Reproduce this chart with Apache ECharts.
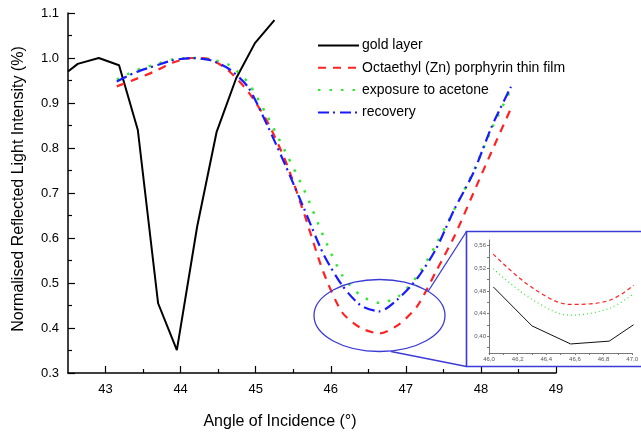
<!DOCTYPE html>
<html><head><meta charset="utf-8">
<script src="https://cdn.jsdelivr.net/npm/echarts@6/dist/echarts.min.js"></script>
<style>html,body{margin:0;padding:0;background:#fff}#c{width:641px;height:437px}</style>
</head><body><div id="c"></div>
<script>
// ---- data ----
const goldX = [42.5, 42.63, 42.91, 43.18, 43.43, 43.70, 43.95, 44.22, 44.48, 44.74, 44.99, 45.25];
const goldY = [0.970, 0.987, 1.000, 0.984, 0.840, 0.455, 0.351, 0.625, 0.836, 0.955, 1.033, 1.084];
const filmX = [43.15, 43.4, 43.65, 43.9, 44.15, 44.4, 44.65, 44.9, 45.15, 45.4, 45.65, 45.9, 46.15, 46.4, 46.65, 46.9, 47.15, 47.4, 47.65, 47.9, 48.15, 48.4];
const filmY = [0.937, 0.953, 0.970, 0.990, 1.000, 0.997, 0.970, 0.925, 0.860, 0.770, 0.652, 0.525, 0.435, 0.400, 0.388, 0.407, 0.448, 0.525, 0.605, 0.700, 0.795, 0.888];
const acetoneY = [0.952, 0.972, 0.985, 0.997, 1.000, 0.997, 0.984, 0.945, 0.872, 0.790, 0.705, 0.605, 0.518, 0.472, 0.456, 0.470, 0.515, 0.585, 0.665, 0.748, 0.845, 0.930];
const recoveryY = [0.948, 0.968, 0.982, 0.995, 1.000, 0.995, 0.975, 0.935, 0.852, 0.760, 0.663, 0.565, 0.495, 0.450, 0.437, 0.465, 0.510, 0.575, 0.665, 0.745, 0.850, 0.936];

const insetX = [46.03, 46.30, 46.57, 46.84, 47.01];
const insetGold = [0.487, 0.418, 0.386, 0.391, 0.420];
const insetFilm = [0.545, 0.486, 0.456, 0.463, 0.490];
const insetAcetone = [0.519, 0.465, 0.437, 0.449, 0.475];

const xTicks = [43, 44, 45, 46, 47, 48, 49];
const xMinorTicks = [43.5, 44.5, 45.5, 46.5, 47.5, 48.5];
const yTicks = [0.3, 0.4, 0.5, 0.6, 0.7, 0.8, 0.9, 1.0, 1.1];
const yMinorTicks = [0.35, 0.45, 0.55, 0.65, 0.75, 0.85, 0.95, 1.05];
const insetXTicks = [46.0, 46.2, 46.4, 46.6, 46.8, 47.0];
const insetXMinor = [46.0, 46.1, 46.2, 46.3, 46.4, 46.5, 46.6, 46.7, 46.8, 46.9, 47.0];
const insetYTicks = [0.40, 0.44, 0.48, 0.52, 0.56];
const insetYMinor = [0.38, 0.40, 0.42, 0.44, 0.46, 0.48, 0.50, 0.52, 0.54, 0.56];

const names = ['gold layer', 'Octaethyl (Zn) porphyrin thin film', 'exposure to acetone', 'recovery'];

// ---- chart ----
const FONT = '"Liberation Sans", Arial, Helvetica, sans-serif';
const pairs = (xs, ys) => xs.map((x, i) => [x, ys[i]]);
const chart = echarts.init(document.getElementById('c'), null, {renderer: 'canvas'});
const RED = '#ff2222', GREEN = '#33e633', BLUE = '#1a1aff', ANN = '#3b3bd6';

const mainAxisLine = {lineStyle: {color: '#000', width: 1.5}};
const option = {
  backgroundColor: '#fff',
  animation: false,
  grid: [
    {left: 68, top: 13, right: 85, bottom: 64},
    {left: 489, top: 240, right: 1, bottom: 84}
  ],
  legend: {
    orient: 'vertical', left: 317, top: 38.5, padding: 0, itemWidth: 41, itemHeight: 14, itemGap: 8.3,
    itemStyle: {opacity: 0},
    textStyle: {fontSize: 14, fontFamily: FONT, color: '#000', padding: [0, 0, 0, -2]},
    data: names
  },
  xAxis: [
    {gridIndex: 0, type: 'value', min: 42.5, max: 49, position: 'bottom',
     axisLine: mainAxisLine,
     axisTick: {inside: true, length: 7, customValues: xTicks, lineStyle: {color: '#000', width: 1.2}},
     axisLabel: {customValues: xTicks, formatter: v => String(Math.round(v)), color: '#000', fontSize: 13, fontFamily: FONT, margin: 10},
     splitLine: {show: false},
     name: 'Angle of Incidence (°)', nameLocation: 'middle', nameGap: 41,
     nameTextStyle: {fontSize: 16, color: '#000', fontFamily: FONT, padding: [0, 64, 0, 0]}},
    {gridIndex: 0, type: 'value', min: 42.5, max: 49, position: 'bottom',
     axisLine: {show: false},
     axisTick: {inside: true, length: 4, customValues: xMinorTicks, lineStyle: {color: '#000', width: 1.2}},
     axisLabel: {show: false}, splitLine: {show: false}},
    {gridIndex: 1, type: 'value', min: 46.0, max: 47.0, position: 'bottom',
     axisLine: {lineStyle: {color: '#777', width: 1}},
     axisTick: {inside: false, length: 2, customValues: insetXMinor, lineStyle: {color: '#777'}},
     axisLabel: {customValues: insetXTicks, formatter: v => v.toFixed(1).replace('.', ','), color: '#555', fontSize: 6, fontFamily: FONT, margin: 3},
     splitLine: {show: false}}
  ],
  yAxis: [
    {gridIndex: 0, type: 'value', min: 0.3, max: 1.1, position: 'left',
     axisLine: mainAxisLine,
     axisTick: {inside: true, length: 7, customValues: yTicks, lineStyle: {color: '#000', width: 1.2}},
     axisLabel: {customValues: yTicks, formatter: v => v.toFixed(1), color: '#000', fontSize: 13, fontFamily: FONT, margin: 9},
     splitLine: {show: false},
     name: 'Normalised Reflected Light Intensity (%)', nameLocation: 'middle', nameGap: 41,
     nameTextStyle: {fontSize: 16, color: '#000', fontFamily: FONT, padding: [0, 0, 0, 8]}},
    {gridIndex: 0, type: 'value', min: 0.3, max: 1.1, position: 'left',
     axisLine: {show: false},
     axisTick: {inside: true, length: 4, customValues: yMinorTicks, lineStyle: {color: '#000', width: 1.2}},
     axisLabel: {show: false}, splitLine: {show: false}},
    {gridIndex: 1, type: 'value', min: 0.37, max: 0.57, position: 'left',
     axisLine: {lineStyle: {color: '#777', width: 1}},
     axisTick: {inside: false, length: 2, customValues: insetYMinor, lineStyle: {color: '#777'}},
     axisLabel: {customValues: insetYTicks, formatter: v => v.toFixed(2).replace('.', ','), color: '#555', fontSize: 6, fontFamily: FONT, margin: 3},
     splitLine: {show: false}}
  ],
  series: [
    {name: names[0], type: 'line', xAxisIndex: 0, yAxisIndex: 0, data: pairs(goldX, goldY),
     symbol: 'none', lineStyle: {color: '#000', width: 2}, itemStyle: {color: '#000'}, clip: true, z: 3},
    {name: names[1], type: 'line', xAxisIndex: 0, yAxisIndex: 0, data: pairs(filmX, filmY), smooth: 0.25,
     symbol: 'none', lineStyle: {color: RED, width: 2.2, type: [8, 7]}, itemStyle: {color: RED}},
    {name: names[2], type: 'line', xAxisIndex: 0, yAxisIndex: 0, data: pairs(filmX, acetoneY), smooth: 0.25,
     symbol: 'none', lineStyle: {color: GREEN, width: 2.5, type: [2.5, 9]}, itemStyle: {color: GREEN}},
    {name: names[3], type: 'line', xAxisIndex: 0, yAxisIndex: 0, data: pairs(filmX, recoveryY), smooth: 0.25,
     symbol: 'none', lineStyle: {color: BLUE, width: 2.2, type: [11, 4, 2, 5]}, itemStyle: {color: BLUE}},
    {name: 'inset gold', type: 'line', xAxisIndex: 2, yAxisIndex: 2, data: pairs(insetX, insetGold),
     symbol: 'none', lineStyle: {color: '#111', width: 1}},
    {name: 'inset film', type: 'line', xAxisIndex: 2, yAxisIndex: 2, data: pairs(insetX, insetFilm), smooth: 0.35,
     symbol: 'none', lineStyle: {color: RED, width: 1.2, type: [4, 3]}},
    {name: 'inset acetone', type: 'line', xAxisIndex: 2, yAxisIndex: 2, data: pairs(insetX, insetAcetone), smooth: 0.35,
     symbol: 'none', lineStyle: {color: GREEN, width: 1.2, type: [1, 3]}}
  ],
  graphic: [
    {type: 'ellipse', z: 100, shape: {cx: 379.5, cy: 315.5, rx: 65.5, ry: 36},
     style: {fill: 'none', stroke: ANN, lineWidth: 1.3}},
    {type: 'rect', z: 100, shape: {x: 466.5, y: 231.5, width: 200, height: 135},
     style: {fill: 'none', stroke: ANN, lineWidth: 1.6}},
    {type: 'line', z: 100, shape: {x1: 428, y1: 291.5, x2: 466.5, y2: 231.5},
     style: {stroke: ANN, lineWidth: 1.3}},
    {type: 'line', z: 100, shape: {x1: 391, y1: 351.5, x2: 466.5, y2: 366.5},
     style: {stroke: ANN, lineWidth: 1.3}}
  ]
};
chart.setOption(option);
</script>
</body></html>
